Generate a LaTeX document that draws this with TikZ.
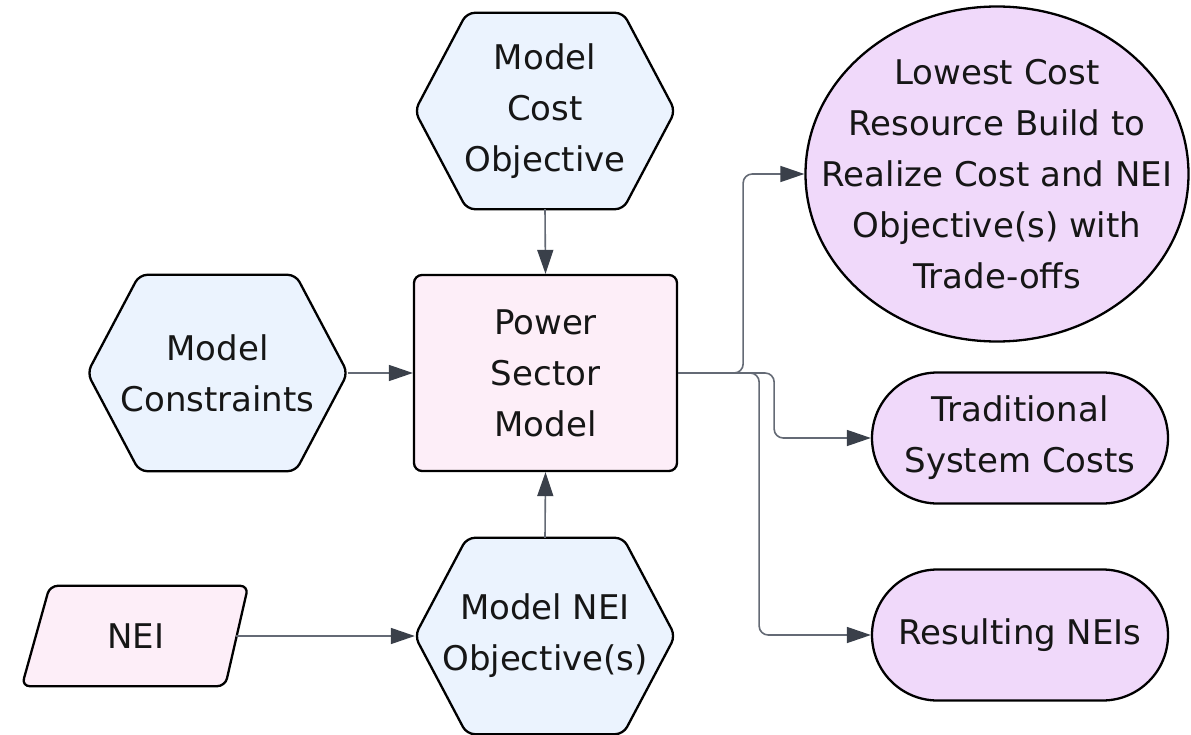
\documentclass[tikz,border=0pt]{standalone}
\usepackage{fontspec}
\setmainfont{DejaVu Sans}
\usetikzlibrary{arrows.meta,shapes.geometric,shapes.misc,backgrounds}
\definecolor{hexfill}{HTML}{EBF3FE}
\definecolor{boxfill}{HTML}{FDEEF8}
\definecolor{outfill}{HTML}{F0D9FA}
\definecolor{linecol}{HTML}{646A75}
\definecolor{tipcol}{HTML}{3A404A}
\definecolor{txtcol}{HTML}{161616}
\tikzset{
  lbl/.style={align=center, inner sep=0pt, text=txtcol, font=\fontsize{34}{51}\selectfont},
  hexnode/.style={lbl, rectangle, minimum width=260pt, minimum height=196pt},
  hexshape/.style={draw=black, line width=2.3pt, fill=hexfill, rounded corners=8pt, line join=round},
  parashape/.style={draw=black, line width=2.3pt, fill=boxfill, rounded corners=8pt, line join=round},
  pbox/.style={lbl, rectangle, draw=black, line width=2.3pt, fill=boxfill, rounded corners=8pt, minimum width=263pt, minimum height=196pt},
  outell/.style={ellipse, inner sep=0pt, draw=black, line width=2.3pt, fill=outfill, minimum width=383pt, minimum height=335pt},
  outpill/.style={lbl, rounded rectangle, draw=black, line width=2.3pt, fill=outfill, minimum width=296pt, minimum height=131pt},
  conn/.style={draw=linecol, line width=1.6pt, rounded corners=9pt, -{Triangle[length=24pt,width=16pt,fill=tipcol,color=tipcol]}},
}
\newcommand{\hexbg}[1]{%
  \path[hexshape] (#1.west) -- ([xshift=52pt]#1.north west) -- ([xshift=-52pt]#1.north east) -- (#1.east) -- ([xshift=-52pt]#1.south east) -- ([xshift=52pt]#1.south west) -- cycle;}
\begin{document}
\begin{tikzpicture}[x=1pt,y=-1pt]
\useasboundingbox (0,0) rectangle (1191,735);

\node[hexnode] (mco) at (545,111) {Model\\Cost\\Objective};
\node[hexnode] (mc) at (217.5,373) {Model\\Constraints};
\node[hexnode] (mneo) at (545,636) {Model NEI\\Objective(s)};
\node[pbox] (psm) at (545.5,373) {Power\\Sector\\Model};
\node[lbl, rectangle, minimum width=200pt, minimum height=100pt] (nei) at (136,636) {NEI};
\node[outell] (lc) at (997,174) {};
\node[lbl] (lctext) at (lc.center) {Lowest Cost\\Resource Build to\\Realize Cost and NEI\\Objective(s) with\\Trade-offs};
\node[outpill] (tsc) at (1020,438) {Traditional\\System Costs};
\node[outpill] (rn) at (1020,635) {Resulting NEIs};

\begin{scope}[on background layer]
\fill[white] (0,0) rectangle (1191,735);
\hexbg{mco}
\hexbg{mc}
\hexbg{mneo}
\path[parashape] ([xshift=14pt]nei.north west) -- ([xshift=12pt]nei.north east) -- ([xshift=-11pt]nei.south east) -- ([xshift=-14pt]nei.south west) -- cycle;
\end{scope}

\draw[conn] (mco.south) -- (psm.north);
\draw[conn] (mc.east) -- (psm.west);
\draw[conn] (mneo.north) -- (psm.south);
\draw[conn] (nei.east) -- (mneo.west);
\draw[conn] (psm.east) -- ++(65,0) |- (lc.west);
\draw[conn] (psm.east) -- ++(96,0) |- (tsc.west);
\draw[conn] (psm.east) -- ++(81,0) |- (rn.west);
\end{tikzpicture}
\end{document}
